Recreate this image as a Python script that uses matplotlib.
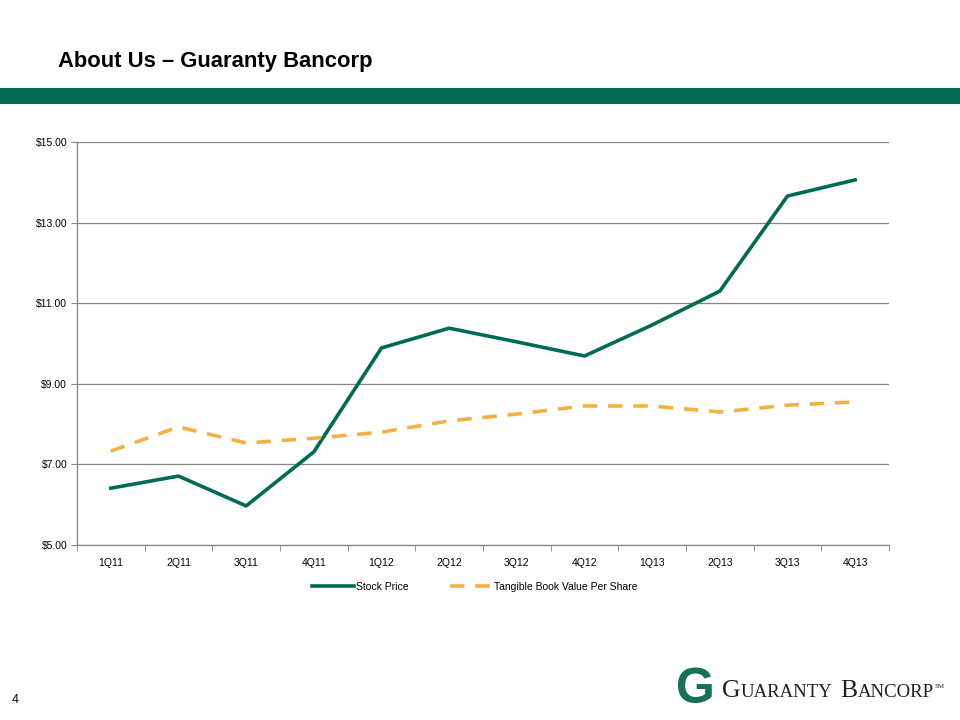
import matplotlib.pyplot as plt
from matplotlib.patches import Rectangle

plt.rcParams['font.family'] = ['Liberation Sans', 'DejaVu Sans']

quarters = ['1Q11', '2Q11', '3Q11', '4Q11', '1Q12', '2Q12',
            '3Q12', '4Q12', '1Q13', '2Q13', '3Q13', '4Q13']
stock_price = [6.41, 6.71, 5.97, 7.31, 9.89, 10.38,
               10.04, 9.69, 10.46, 11.30, 13.66, 14.06]
tangible_bv = [7.33, 7.93, 7.53, 7.65, 7.80, 8.08,
               8.25, 8.45, 8.45, 8.30, 8.47, 8.55]
y_ticks = [5, 7, 9, 11, 13, 15]

green = '#006B54'
orange = '#F4B042'
grid_grey = '#868686'


def logo_text(fig, x_px, y_px, pieces):
    # lay out word pieces left to right, measuring each one
    renderer = fig.canvas.get_renderer()
    for text, size, dy, gap in pieces:
        t = fig.text(x_px / 960, 1 - (y_px + dy) / 720, text, fontsize=size,
                     family='Liberation Serif', color='#231F20',
                     va='baseline', ha='left')
        x_px += t.get_window_extent(renderer).width + gap


def main():
    fig = plt.figure(figsize=(9.6, 7.2), dpi=100)

    # Header
    fig.text(58 / 960, 1 - 62 / 720, 'About Us \u2013 Guaranty Bancorp',
             fontsize=15.8, fontweight='bold', va='center', ha='left')
    fig.add_artist(Rectangle((0, 1 - 104 / 720), 1, 16 / 720,
                             transform=fig.transFigure, color='#016A55', lw=0))

    ax = fig.add_axes([77 / 960, 1 - 545 / 720, 812 / 960, 403 / 720])
    x = list(range(len(quarters)))
    ax.plot(x, stock_price, color=green, lw=2.6, label='Stock Price')
    ax.plot(x, tangible_bv, color=orange, lw=2.6, dashes=(4, 3),
            label='Tangible Book Value Per Share')

    ax.set_xlim(-0.5, len(quarters) - 0.5)
    ax.set_ylim(5, 15)
    ax.set_yticks(y_ticks)
    ax.set_yticklabels([f'${v:.2f}' for v in y_ticks])
    ax.set_xticks(x)
    ax.set_xticklabels(quarters)
    ax.set_xticks([i - 0.5 for i in range(len(quarters) + 1)], minor=True)
    ax.tick_params(axis='x', which='major', length=0, pad=9, labelsize=7.5)
    ax.tick_params(axis='x', which='minor', length=4, color=grid_grey, direction='out')
    ax.tick_params(axis='y', length=4, color=grid_grey, labelsize=7.5, pad=3)

    ax.grid(axis='y', color=grid_grey, lw=0.9)
    ax.set_axisbelow(True)
    for side in ['top', 'right']:
        ax.spines[side].set_visible(False)
    for side in ['left', 'bottom']:
        ax.spines[side].set_color(grid_grey)
        ax.spines[side].set_linewidth(0.9)

    ax.legend(loc='center', bbox_to_anchor=(475 / 960, 1 - 587 / 720),
              bbox_transform=fig.transFigure, ncol=2, frameon=False,
              fontsize=7.5, handlelength=4, columnspacing=4, handletextpad=0.2)

    # Footer
    fig.text(12 / 960, 1 - 700 / 720, '4', fontsize=9, va='center', ha='left')
    fig.text(695 / 960, 1 - 690 / 720, 'G', fontsize=36, fontweight='bold',
             color='#16705A', va='center', ha='center')
    logo_text(fig, 722, 697, [('G', 18.5, 0, 0), ('UARANTY', 13.5, 0, 8),
                              ('B', 18.5, 0, 0), ('ANCORP', 13.5, 0, 1),
                              ('SM', 5, -9, 0)])

    fig.savefig('out.png', dpi=100)


if __name__ == '__main__':
    main()
